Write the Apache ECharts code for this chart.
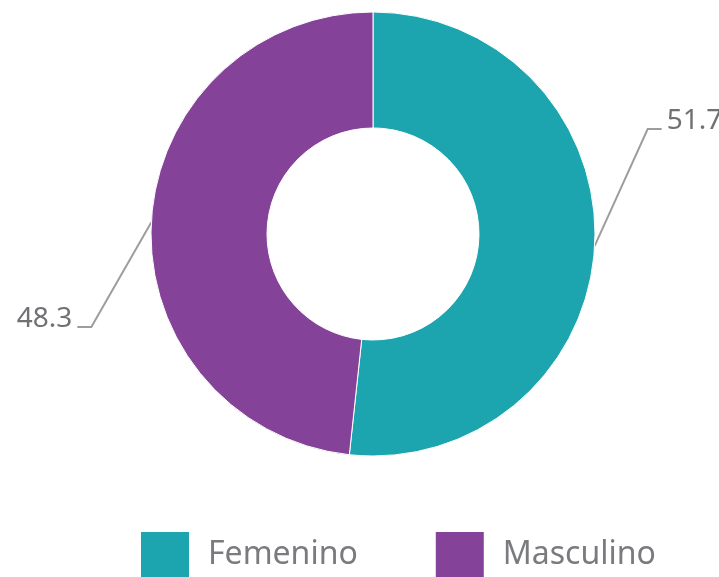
<!DOCTYPE html>
<html><head><meta charset="utf-8">
<script src="https://cdn.jsdelivr.net/npm/echarts@6/dist/echarts.min.js"></script>
<style>html,body{margin:0;padding:0;background:#fff}#c{width:719px;height:577px}</style>
</head><body><div id="c"></div>
<script>
const categories = ["Femenino", "Masculino"];
const values = [51.7, 48.3];
const colors = ["#1ca5ae", "#844398"];

const chart = echarts.init(document.getElementById('c'));
const cx = 373, cy = 234, rOut = 222, rIn = 106;
chart.setOption({
  animation: false,
  color: colors,
  legend: {
    top: 530,
    left: 139,
    padding: 0,
    itemWidth: 50, itemHeight: 48, itemGap: 76,
    icon: 'rect',
    textStyle: { fontFamily: 'Noto Sans', fontSize: 32, color: '#7a7b7e', padding: [0,0,0,13] },
    data: categories
  },
  series: [{
    type: 'pie',
    center: [cx, cy],
    radius: [rIn, rOut],
    startAngle: 90,
    clockwise: true,
    avoidLabelOverlap: false,
    itemStyle: { borderColor: '#fff', borderWidth: 1 },
    label: {
      show: true,
      formatter: p => p.value.toFixed(1),
      fontFamily: 'Noto Sans', fontSize: 28, color: '#707174'
    },
    labelLine: { show: true, lineStyle: { color: '#9d9d9d', width: 2 } },
    labelLayout: function (p) {
      const start = p.labelLinePoints[0];
      const right = start[0] > cx;
      const bend = right ? [start[0] + 53, cy - 105] : [start[0] - 60, cy + 93];
      const end = right ? [bend[0] + 14, bend[1]] : [bend[0] - 14, bend[1]];
      return {
        x: right ? end[0] + 5 : end[0] - 5,
        y: bend[1] + 6,
        align: right ? 'left' : 'right',
        verticalAlign: 'bottom',
        labelLinePoints: [start, bend, end]
      };
    },
    data: categories.map((c, i) => ({ name: c, value: values[i] }))
  }]
});
</script></body></html>
